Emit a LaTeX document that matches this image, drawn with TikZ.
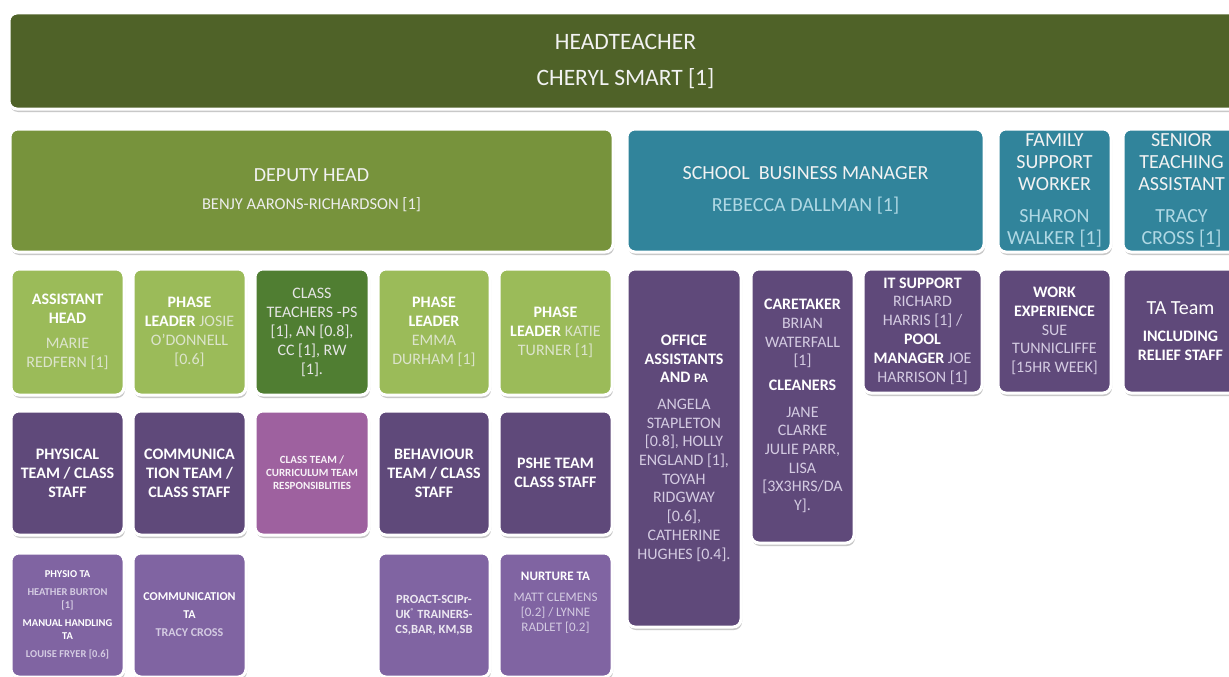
\documentclass[tikz,border=0pt]{standalone}
\usepackage{fontspec}
\setmainfont{Carlito}
\usetikzlibrary{shadows}

% fills
\definecolor{headfill}{HTML}{4F6228}
\definecolor{deputyfill}{HTML}{77933C}
\definecolor{leaffill}{HTML}{9BBB59}
\definecolor{classfill}{HTML}{507E32}
\definecolor{tealfill}{HTML}{31849B}
\definecolor{teamfill}{HTML}{5F497A}
\definecolor{pinkfill}{HTML}{9E619F}
\definecolor{tafill}{HTML}{8064A2}
% name colours
\definecolor{greenname}{HTML}{DCE4CC}
\definecolor{tealname}{HTML}{AFD8E4}
\definecolor{purplename}{HTML}{D4CBE2}
\definecolor{softwhite}{HTML}{F2F2F2}

\newcommand\ptitle[1]{{\bfseries\color{white}#1}}
\newcommand\pname[1]{{\mdseries\color{namecol}#1}}

% box from its corner coordinates: name, x1, y1, x2, y2, style, text
\newcommand\orgbox[7]{%
  \pgfmathsetmacro\obW{#4-#2}\pgfmathsetmacro\obH{#5-#3}%
  \node[#6, minimum width=\obW pt, minimum height=\obH pt] (#1)
    at ({(#2+#4)/2},{(#3+#5)/2}) {#7};}

\tikzset{
  box/.style={rounded corners=8pt, draw=white, line width=3pt, align=center,
    text=softwhite, inner sep=1pt,
    drop shadow={shadow xshift=1pt, shadow yshift=-3pt, opacity=.3, fill=black!70}},
  headbox/.style={box, fill=headfill, font=\fontsize{23.5}{36}\selectfont},
  deputybox/.style={box, fill=deputyfill, font=\fontsize{20}{28}\selectfont},
  tealbox/.style={box, fill=tealfill, font=\fontsize{20}{22}\selectfont,
    execute at begin node={\colorlet{namecol}{tealname}}},
  leafbox/.style={box, fill=leaffill, font=\fontsize{16}{19}\selectfont,
    execute at begin node={\colorlet{namecol}{greenname}}},
  classbox/.style={box, fill=classfill, font=\fontsize{16}{19}\selectfont,
    text=white!90!black},
  teambox/.style={box, fill=teamfill, font=\fontsize{16}{19}\selectfont,
    execute at begin node={\colorlet{namecol}{purplename}}},
  pinkbox/.style={box, fill=pinkfill, font=\fontsize{11}{13}\selectfont\bfseries,
    text=white!92!pinkfill},
  tabox/.style={box, fill=tafill,
    execute at begin node={\colorlet{namecol}{purplename}}},
}

\begin{document}
\begin{tikzpicture}[x=1pt,y=-1pt]
\useasboundingbox (0,0) rectangle (1229,677);
\clip (0,0) rectangle (1229,677);
\fill[white] (0,0) rectangle (1229,677);

% top level
\orgbox{head}{9}{13}{1242}{109}{headbox}{HEADTEACHER\\CHERYL SMART [1]}

% second level
\orgbox{deputy}{10}{129}{613}{252}{deputybox}{%
  DEPUTY HEAD\\
  {\fontsize{16.5}{20}\selectfont\color{white!93!black}BENJY AARONS-RICHARDSON [1]}}
\orgbox{sbm}{627}{129}{984}{252}{tealbox, font=\fontsize{20}{32}\selectfont}{%
  SCHOOL\ \ BUSINESS MANAGER\\\pname{REBECCA DALLMAN [1]}}
\orgbox{fsw}{998}{129}{1111}{252}{tealbox}{%
  FAMILY\\SUPPORT\\WORKER\\[10pt]\pname{SHARON}\\\pname{WALKER [1]}}
\orgbox{sta}{1123}{129}{1240}{252}{tealbox}{%
  SENIOR\\TEACHING\\ASSISTANT\\[10pt]\pname{TRACY}\\\pname{CROSS [1]}}

% third level: under the deputy head
\orgbox{ahead}{11}{269}{124}{395}{leafbox}{%
  \ptitle{ASSISTANT}\\\ptitle{HEAD}\\[6pt]\pname{MARIE}\\\pname{REDFERN [1]}}
\orgbox{plj}{133}{269}{246}{395}{leafbox}{%
  \ptitle{PHASE}\\\ptitle{LEADER} \pname{JOSIE}\\\pname{O'DONNELL}\\\pname{[0.6]}}
\orgbox{ctea}{255}{269}{369}{395}{classbox}{%
  CLASS\\TEACHERS -PS\\{}[1], AN [0.8],\\CC [1], RW\\{}[1].}
\orgbox{ple}{378}{269}{490}{395}{leafbox}{%
  \ptitle{PHASE}\\\ptitle{LEADER}\\\pname{EMMA}\\\pname{DURHAM [1]}}
\orgbox{plk}{499}{269}{612}{395}{leafbox}{%
  \ptitle{PHASE}\\\ptitle{LEADER} \pname{KATIE}\\\pname{TURNER [1]}}

% third level: business and support staff
\orgbox{office}{627}{269}{741}{627}{teambox, font=\fontsize{16}{18.7}\selectfont}{%
  \ptitle{OFFICE}\\\ptitle{ASSISTANTS}\\\ptitle{AND {\fontsize{13}{18.7}\selectfont PA}}\\[8pt]
  \pname{ANGELA}\\\pname{STAPLETON}\\\pname{[0.8], HOLLY}\\\pname{ENGLAND [1],}\\
  \pname{TOYAH}\\\pname{RIDGWAY}\\\pname{[0.6],}\\\pname{CATHERINE}\\\pname{HUGHES [0.4].}}
\orgbox{care}{751}{269}{854}{543}{teambox, font=\fontsize{16}{18.7}\selectfont}{%
  \ptitle{CARETAKER}\\\pname{BRIAN}\\\pname{WATERFALL}\\\pname{[1]}\\[6pt]
  \ptitle{CLEANERS}\\[8pt]
  \pname{JANE}\\\pname{CLARKE}\\\pname{JULIE PARR,}\\\pname{LISA}\\\pname{[3X3HRS/DA}\\\pname{Y].}}
\orgbox{itsup}{863}{269}{982}{393}{teambox, font=\fontsize{16}{18.8}\selectfont}{%
  \ptitle{IT SUPPORT}\\\pname{RICHARD}\\\pname{HARRIS [1] /}\\\ptitle{POOL}\\
  \ptitle{MANAGER} \pname{JOE}\\\pname{HARRISON [1]}}
\orgbox{work}{998}{269}{1111}{393}{teambox, font=\fontsize{16}{18.8}\selectfont}{%
  \ptitle{WORK}\\\ptitle{EXPERIENCE}\\\pname{SUE}\\\pname{TUNNICLIFFE}\\\pname{[15HR WEEK]}}
\orgbox{tateam}{1123}{269}{1238}{393}{teambox}{%
  {\fontsize{20}{22}\selectfont\color{white}TA Team}\\[8pt]
  \ptitle{INCLUDING}\\\ptitle{RELIEF STAFF}}

% fourth level: class staff teams
\orgbox{phys}{11}{411}{124}{535}{teambox}{%
  \ptitle{PHYSICAL}\\\ptitle{TEAM / CLASS}\\\ptitle{STAFF}}
\orgbox{comm}{133}{411}{246}{535}{teambox}{%
  \ptitle{COMMUNICA}\\\ptitle{TION TEAM /}\\\ptitle{CLASS STAFF}}
\orgbox{cteam}{255}{411}{369}{535}{pinkbox}{%
  CLASS TEAM /\\CURRICULUM TEAM\\RESPONSIBLITIES}
\orgbox{behav}{378}{411}{490}{535}{teambox}{%
  \ptitle{BEHAVIOUR}\\\ptitle{TEAM / CLASS}\\\ptitle{STAFF}}
\orgbox{pshe}{499}{411}{612}{535}{teambox}{%
  \ptitle{PSHE TEAM}\\\ptitle{CLASS STAFF}}

% fifth level: teaching assistants
\orgbox{physio}{11}{553}{124}{677}{tabox, font=\fontsize{10.5}{13.5}\selectfont\bfseries}{%
  \ptitle{PHYSIO TA}\\[4pt]\pname{\bfseries HEATHER BURTON}\\\pname{\bfseries [1]}\\[4pt]
  \ptitle{MANUAL HANDLING}\\\ptitle{TA}\\[4pt]\pname{\bfseries LOUISE FRYER [0.6]}}
\orgbox{commta}{133}{553}{246}{677}{tabox, font=\fontsize{12}{18}\selectfont\bfseries}{%
  \ptitle{COMMUNICATION}\\\ptitle{TA}\\\pname{\bfseries TRACY CROSS}}
\orgbox{proact}{378}{553}{490}{677}{tabox, font=\fontsize{12.5}{15}\selectfont\bfseries,
    text=white!85!tafill}{%
  PROACT-SCIPr-\\UK\textsuperscript{\fontsize{7}{7}\selectfont ®} TRAINERS-\\CS,BAR, KM,SB}
\orgbox{nurture}{499}{553}{612}{677}{tabox, font=\fontsize{13}{15}\selectfont,
    text depth=26pt}{%
  \ptitle{NURTURE TA}\\[6pt]\pname{MATT CLEMENS}\\\pname{[0.2] / LYNNE}\\\pname{RADLET [0.2]}}
\end{tikzpicture}
\end{document}
